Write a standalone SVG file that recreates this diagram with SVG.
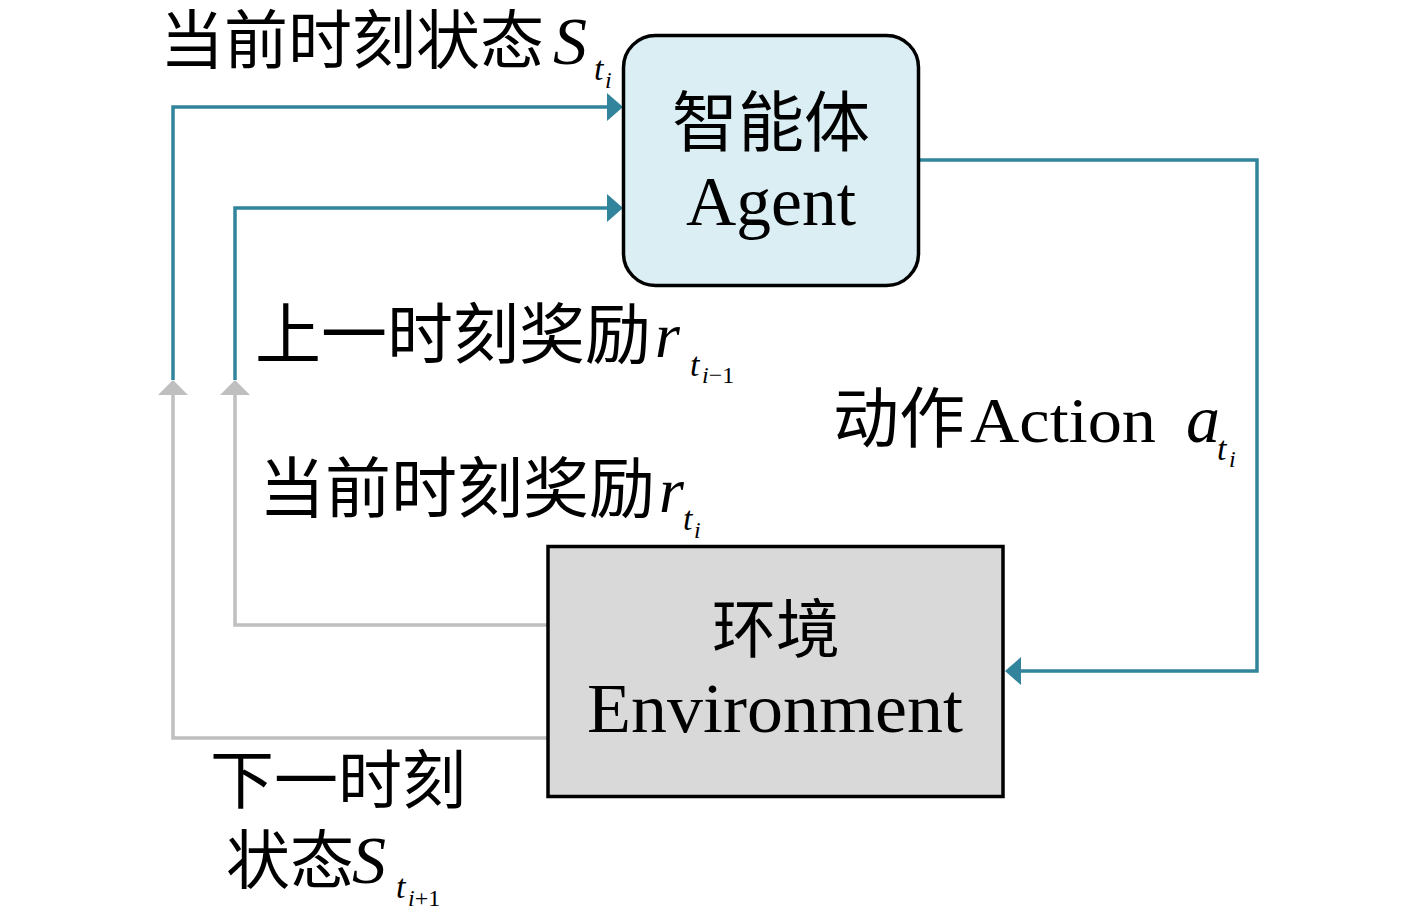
<svg xmlns="http://www.w3.org/2000/svg" width="1417" height="917" viewBox="0 0 1417 917">
<defs>
<style>
.cjk{font-family:"Noto Sans CJK SC","Liberation Serif",serif;fill:#000;}
.lat{font-family:"Liberation Serif","Noto Sans CJK SC",serif;fill:#000;}
.it{font-family:"Liberation Serif",serif;font-style:italic;}
.up{font-family:"Liberation Serif",serif;font-style:normal;}
.teal{fill:none;stroke:#31849b;stroke-width:3.5;}
.gray{fill:none;stroke:#bfbfbf;stroke-width:3.5;}
</style>
<marker id="ah-teal" markerUnits="userSpaceOnUse" markerWidth="16" markerHeight="28" refX="0" refY="14" orient="auto">
<path d="M0,0 L16,14 L0,28 Z" fill="#31849b"/>
</marker>
<marker id="ah-gray" markerUnits="userSpaceOnUse" markerWidth="15" markerHeight="30" refX="0" refY="15" orient="auto">
<path d="M0,0 L15,15 L0,30 Z" fill="#bfbfbf"/>
</marker>
</defs>
<rect x="0" y="0" width="1417" height="917" fill="#ffffff"/>

<g id="connectors">
<path class="teal" d="M173,380 V107 H607" marker-end="url(#ah-teal)"/>
<path class="teal" d="M235,380 V208 H607" marker-end="url(#ah-teal)"/>
<path class="teal" d="M920,160 H1257 V671 H1021" marker-end="url(#ah-teal)"/>
<path class="gray" d="M548,625 H235 V395" marker-end="url(#ah-gray)"/>
<path class="gray" d="M548,738 H173 V395" marker-end="url(#ah-gray)"/>
</g>

<g id="agent">
<rect x="623.5" y="35.5" width="295" height="250" rx="32" ry="32" fill="#daeef3" stroke="#000" stroke-width="3.5"/>
<text class="cjk" x="771" y="146" font-size="66" text-anchor="middle">智能体</text>
<text class="lat" x="771" y="225" font-size="70" text-anchor="middle" textLength="170" lengthAdjust="spacingAndGlyphs">Agent</text>
</g>

<g id="environment">
<rect x="548" y="546.5" width="455" height="250" fill="#d9d9d9" stroke="#000" stroke-width="3.5"/>
<text class="cjk" x="776" y="652" font-size="64" text-anchor="middle">环境</text>
<text class="lat" x="775" y="732" font-size="70" text-anchor="middle" textLength="376" lengthAdjust="spacingAndGlyphs">Environment</text>
</g>

<g id="label-state-current">
<text class="cjk" x="160" y="63" font-size="64">当前时刻状态<tspan class="it" x="553" y="64" font-size="68">S</tspan><tspan class="it" x="594" y="80" font-size="34">t</tspan><tspan class="it" x="605" y="88" font-size="24">i</tspan></text>
</g>

<g id="label-reward-prev">
<text class="cjk" x="255" y="358" font-size="66">上一时刻奖励<tspan class="it" x="655" y="357" font-size="64">r</tspan><tspan class="it" x="690" y="376" font-size="34">t</tspan><tspan class="it" x="702" y="383" font-size="24">i</tspan><tspan class="up" font-size="24">−1</tspan></text>
</g>

<g id="label-reward-current">
<text class="cjk" x="259" y="512" font-size="66">当前时刻奖励<tspan class="it" x="659" y="512" font-size="64">r</tspan><tspan class="it" x="683" y="530" font-size="34">t</tspan><tspan class="it" x="694" y="538" font-size="24">i</tspan></text>
</g>

<g id="label-action">
<text class="cjk" x="833" y="442" font-size="66">动作<tspan class="lat" x="970" y="442" font-size="64" textLength="186" lengthAdjust="spacingAndGlyphs">Action</tspan><tspan class="it" x="1186" y="442" font-size="68">a</tspan><tspan class="it" x="1217" y="460" font-size="34">t</tspan><tspan class="it" x="1229" y="467" font-size="24">i</tspan></text>
</g>

<g id="label-state-next">
<text class="cjk" x="210" y="803" font-size="64">下一时刻<tspan x="226" y="883">状态</tspan><tspan class="it" x="352" y="883" font-size="68">S</tspan><tspan class="it" x="396" y="898" font-size="34">t</tspan><tspan class="it" x="408" y="906" font-size="24">i</tspan><tspan class="up" font-size="24">+1</tspan></text>
</g>
</svg>
